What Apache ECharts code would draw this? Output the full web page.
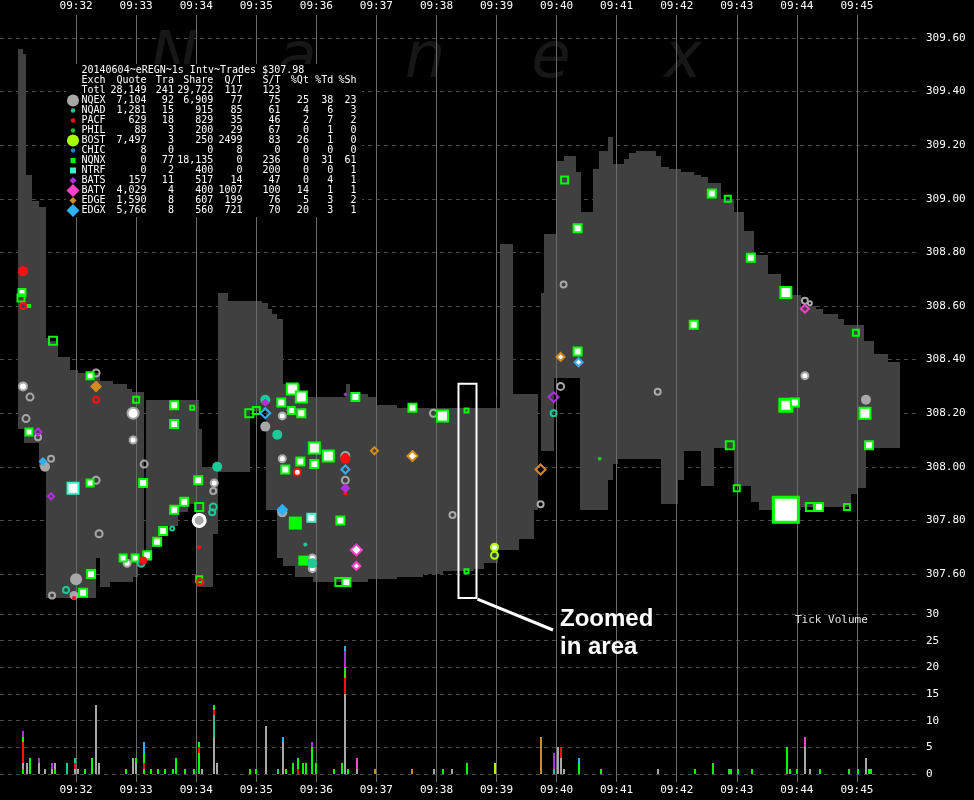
<!DOCTYPE html>
<html><head><meta charset="utf-8">
<script src="https://cdn.jsdelivr.net/npm/echarts@6/dist/echarts.min.js"></script>
<style>html,body{margin:0;padding:0;background:#000;}#c{width:974px;height:800px;}</style>
</head><body><div id="c"></div>
<script>
// ---------- exchanges / table ----------
const exchNames  = ['NQEX','NQAD','PACF','PHIL','BOST','CHIC','NQNX','NTRF','BATS','BATY','EDGE','EDGX'];
const exchColors = ['#a8a8a8','#20c898','#ff1010','#22c022','#aaff00','#1a88cc','#00ff00','#40f0c8','#b030e0','#ff40c8','#d08c20','#30b0f0'];
const exchSymbols= ['circle','circle','circle','circle','circle','circle','rect','rect','diamond','diamond','diamond','diamond'];
const titleText = '20140604~eREGN~1s Intv~Trades $307.98';
const headers  = ['Quote','Tra','Share','Q/T','S/T','%Qt','%Td','%Sh'];
const totals   = ['28,149','241','29,722','117','123','','',''];
const quoteCol = ['7,104','1,281','629','88','7,497','8','0','0','157','4,029','1,590','5,766'];
const traCol   = ['92','15','18','3','3','0','77','2','11','4','8','8'];
const shareCol = ['6,909','915','829','200','250','0','18,135','400','517','400','607','560'];
const qtCol    = ['77','85','35','29','2499','8','0','0','14','1007','199','721'];
const stCol    = ['75','61','46','67','83','0','236','200','47','100','76','70'];
const pctQt    = ['25','4','2','0','26','0','0','0','0','14','5','20'];
const pctTd    = ['38','6','7','1','1','0','31','0','4','1','3','3'];
const pctSh    = ['23','3','2','0','0','0','61','1','1','1','2','1'];

// ---------- NBBO band (time = seconds after 09:30:00) ----------
const bandTime = [62,67,68,70,76,83,90,94,102,114,122,140,144,154,157,171,176,177,182,188,190,196,204,212,222,232,241,243,246,257,262,272,294,306,310,312,316,321,327,339,344,357,390,394,412,421,441,467,487,517,527,541,543,556,562,577,581,584,587,597,599,607,619,623,624,636,642,651,656,661,667,672,679,699,704,712,721,724,727,737,744,751,757,764,777,787,794,797,802,811,824,844,859,866,881,887,894,901,907,909,917,931];
const bandAsk  = [309.56,309.54,309.54,309.09,308.99,308.97,308.48,308.47,308.41,308.36,308.35,308.35,308.32,308.32,308.31,308.29,308.28,308.28,308.28,308.28,308.25,308.25,308.25,308.25,308.25,308.25,308.25,308.14,308.00,308.00,308.65,308.62,308.62,308.61,308.61,308.59,308.57,308.55,308.31,308.31,308.26,308.26,308.31,308.27,308.26,308.23,308.22,308.22,308.22,308.22,308.22,308.22,308.83,308.27,308.27,308.27,308.27,308.65,308.87,308.87,309.14,309.16,309.10,309.10,308.95,309.11,309.18,309.23,309.13,309.13,309.15,309.17,309.18,309.16,309.12,309.11,309.11,309.10,309.10,309.09,309.08,309.06,309.06,309.00,308.95,308.88,308.88,308.79,308.79,308.72,308.64,308.60,308.59,308.57,308.55,308.53,308.53,308.53,308.47,308.47,308.42,308.39];
const bandBid  = [308.14,308.14,308.09,308.09,308.09,308.00,307.51,307.51,307.51,307.51,307.51,307.66,307.55,307.57,307.57,307.57,307.57,307.59,307.63,308.28,307.65,307.70,307.74,307.78,307.83,307.86,307.55,307.55,307.55,307.75,307.98,307.98,308.21,308.21,307.84,307.84,307.84,307.66,307.63,307.59,307.59,307.57,307.57,307.57,307.58,307.58,307.59,307.60,307.61,307.62,307.64,307.69,307.69,307.69,307.73,307.84,308.27,308.06,308.06,308.33,308.33,308.33,308.33,307.84,307.84,307.84,307.84,307.95,308.01,308.03,308.03,308.03,308.03,308.03,307.86,307.86,307.95,307.95,308.06,308.06,307.93,307.93,308.07,308.07,307.93,307.93,307.87,307.87,307.84,307.84,307.84,307.85,307.85,307.85,307.85,307.85,307.90,307.92,307.92,308.07,308.07,308.07];
const bandEnd = 943;

// ---------- trades / quotes: [time, price, size level, kind] ----------
// kind: T = trade (white centre), Q = hollow, F = filled, R = filled with white ring
const nqexMarks = [[67,308.30,4,'T'],[74,308.26,3,'Q'],[70,308.18,3,'Q'],[82,308.11,2,'Q'],[89,308.00,4,'F'],[95,308.03,2,'Q'],[140,308.35,3,'Q'],[140,307.95,3,'Q'],[143,307.75,3,'Q'],[177,308.20,6,'T'],[177,308.10,3,'T'],[188,308.01,3,'Q'],[171,307.64,3,'T'],[120,307.58,5,'F'],[96,307.52,2,'Q'],[118,307.52,3,'F'],[258,307.94,3,'T'],[257,307.91,2,'Q'],[243,307.80,7,'R'],[326,308.19,3,'T'],[309,308.15,4,'F'],[326,308.03,3,'T'],[326,307.83,4,'F'],[356,307.66,3,'T'],[356,307.62,3,'T'],[389,308.04,4,'Q'],[389,307.95,3,'Q'],[477,308.20,3,'Q'],[496,307.82,2,'Q'],[584,307.86,2,'Q'],[604,308.30,3,'Q'],[607,308.68,2,'Q'],[701,308.28,2,'Q'],[848,308.62,2,'Q'],[853,308.61,1,'Q'],[848,308.34,3,'T'],[909,308.25,4,'F']];
const nqadMarks = [[185,307.64,3,'Q'],[110,307.54,2,'Q'],[261,308.00,4,'F'],[257,307.85,3,'Q'],[256,307.83,2,'Q'],[216,307.77,1,'Q'],[309,308.25,4,'F'],[321,308.12,4,'F'],[349,307.71,0,'F'],[356,307.64,4,'F'],[597,308.20,2,'Q']];
const pacfMarks = [[67,308.73,4,'F'],[67,308.60,2,'Q'],[140,308.25,2,'Q'],[187,307.65,2,'F'],[118,307.51,0,'F'],[243,307.70,0,'F'],[244,307.57,2,'Q'],[341,307.98,3,'T'],[389,308.03,4,'F'],[389,307.90,0,'F']];
const philMarks = [[643,308.03,0,'F']];
const bostMarks = [[538,307.70,3,'T'],[538,307.67,3,'Q']];
const chicMarks = [];
const nqnxMarks = [[66,308.65,3,'T'],[65,308.63,3,'Q'],[73,308.60,0,'F'],[97,308.47,4,'Q'],[134,308.34,3,'T'],[73,308.13,3,'T'],[180,308.25,2,'Q'],[134,307.94,3,'T'],[187,307.94,4,'T'],[167,307.66,3,'T'],[179,307.66,3,'T'],[191,307.67,4,'T'],[201,307.72,4,'T'],[207,307.76,4,'T'],[135,307.60,4,'T'],[127,307.53,4,'T'],[218,308.23,4,'T'],[236,308.22,1,'Q'],[218,308.16,4,'T'],[242,307.95,4,'T'],[228,307.87,4,'T'],[218,307.84,4,'T'],[243,307.85,4,'Q'],[243,307.58,2,'Q'],[293,308.20,4,'Q'],[300,308.21,3,'Q'],[336,308.29,6,'T'],[345,308.26,6,'T'],[325,308.24,4,'T'],[335,308.21,3,'T'],[345,308.20,4,'T'],[358,308.07,6,'T'],[372,308.04,6,'T'],[344,308.02,4,'T'],[358,308.01,4,'T'],[329,307.99,4,'T'],[339,307.79,6,'F'],[347,307.65,4,'F'],[399,308.26,4,'T'],[456,308.22,4,'T'],[486,308.19,6,'T'],[510,308.21,1,'Q'],[384,307.80,4,'T'],[383,307.57,4,'Q'],[390,307.57,4,'T'],[510,307.61,1,'Q'],[621,308.43,4,'T'],[608,309.07,3,'Q'],[621,308.89,4,'T'],[755,309.02,4,'T'],[771,309.00,2,'Q'],[737,308.53,4,'T'],[794,308.78,4,'T'],[829,308.65,6,'T'],[899,308.50,2,'Q'],[829,308.23,7,'T'],[838,308.24,4,'T'],[908,308.20,6,'T'],[773,308.08,4,'Q'],[912,308.08,4,'T'],[780,307.92,2,'Q'],[829,307.84,8,'T'],[853,307.85,4,'Q'],[862,307.85,4,'T'],[890,307.85,2,'Q']];
const ntrfMarks = [[117,307.92,6,'T'],[355,307.81,4,'T']];
const batsMarks = [[82,308.13,3,'Q'],[95,307.89,2,'Q'],[389,308.27,0,'F'],[389,307.92,4,'F'],[597,308.26,5,'Q'],[309,308.24,2,'F']];
const batyMarks = [[400,307.69,6,'T'],[400,307.63,4,'T'],[848,308.59,4,'Q']];
const edgeMarks = [[140,308.30,5,'F'],[418,308.06,3,'Q'],[456,308.04,5,'T'],[584,307.99,5,'Q'],[604,308.41,4,'T']];
const edgxMarks = [[87,308.02,3,'F'],[309,308.20,5,'Q'],[326,307.84,5,'F'],[389,307.99,4,'Q'],[622,308.39,4,'T']];

// ---------- tick volume: [time, exchange, count] listed bottom to top ----------
const volBars = [[67,'NQNX',1],[67,'NQEX',1],[67,'PACF',4],[67,'NQNX',1],[67,'BATS',1],[71,'NQEX',2],[74,'NQNX',3],[83,'NQEX',2],[83,'BATS',1],[89,'NQEX',1],[96,'NQEX',1],[96,'BATS',1],[99,'NQNX',1],[99,'NQEX',1],[111,'NQAD',2],[119,'NQEX',1],[119,'PACF',1],[119,'NQAD',1],[122,'NQEX',1],[129,'NQNX',1],[136,'NQNX',3],[140,'NQEX',13],[143,'NQEX',2],[170,'NQNX',1],[177,'NQEX',3],[180,'NQEX',2],[180,'NQNX',1],[188,'NQNX',1],[188,'PACF',1],[188,'NQNX',2],[188,'EDGX',2],[195,'NQNX',1],[202,'NQNX',1],[209,'NQNX',1],[217,'NQNX',1],[220,'NQNX',3],[229,'NQNX',1],[238,'NQNX',1],[243,'NQNX',4],[243,'PACF',1],[243,'NQNX',1],[246,'NQEX',1],[258,'NQEX',7],[258,'NQAD',4],[258,'PACF',1],[258,'NQNX',1],[261,'NQEX',2],[294,'NQNX',1],[300,'NQNX',1],[310,'NQEX',9],[322,'NQAD',1],[327,'NQEX',6],[327,'EDGX',1],[330,'NQNX',1],[337,'NQNX',2],[342,'PACF',1],[342,'NQNX',2],[347,'NQNX',2],[350,'NQNX',2],[356,'NQNX',5],[356,'BATS',1],[360,'NQNX',2],[378,'NQNX',1],[386,'NQNX',2],[389,'NQEX',15],[389,'PACF',3],[389,'NQNX',2],[389,'BATS',3],[389,'EDGX',1],[392,'NQNX',1],[401,'NQEX',1],[401,'BATY',2],[419,'EDGE',1],[456,'EDGE',1],[478,'NQEX',1],[487,'NQNX',1],[496,'NQEX',1],[511,'NQNX',2],[538,'BOST',2],[584,'EDGE',7],[597,'NQAD',1],[597,'BATS',3],[601,'NQEX',5],[604,'NQEX',3],[604,'PACF',2],[607,'NQEX',1],[622,'NQNX',2],[622,'EDGX',1],[644,'NQNX',1],[701,'NQEX',1],[738,'NQNX',1],[756,'NQNX',2],[772,'NQNX',1],[774,'NQNX',1],[781,'NQNX',1],[795,'NQNX',1],[830,'NQNX',5],[833,'NQNX',1],[840,'NQNX',1],[848,'NQEX',5],[848,'BATY',2],[853,'NQEX',1],[863,'NQNX',1],[892,'NQNX',1],[901,'NQNX',1],[909,'NQEX',3],[912,'NQNX',1],[914,'NQNX',1]];

// ---------- axis ticks ----------
const priceMin = 307.6, priceMax = 309.6, priceStep = 0.2;
const volMax = 30, volStep = 5;
const timeMin = 60, timeMax = 960, timeStep = 60;
const zoomBox = {t0: 502, t1: 520, pHigh: 308.31, pLow: 307.51};

// ============ build ============
const MONO = '"DejaVu Sans Mono", monospace';
const markSizes = [4,6,8,9,10,12,13,15,28];
const markSets = [nqexMarks,nqadMarks,pacfMarks,philMarks,bostMarks,chicMarks,nqnxMarks,ntrfMarks,batsMarks,batyMarks,edgeMarks,edgxMarks];

function markItem(m, color) {
  const t = m[0], p = m[1], lvl = m[2], kind = m[3];
  const S = markSizes[lvl];
  const bw = lvl >= 7 ? 3 : 2;
  let st, size = S - bw;
  if (kind === 'T') st = {color:'#ffffff', borderColor:color, borderWidth:bw, opacity:1};
  else if (kind === 'Q') st = {color:'rgba(0,0,0,0)', borderColor:color, borderWidth:bw, opacity:1};
  else if (kind === 'R') st = {color:color, borderColor:'#ffffff', borderWidth:bw, opacity:1};
  else { st = {color:color, borderWidth:0, opacity:1}; size = S; }
  return {value:[t,p], symbolSize:size, itemStyle:st};
}

const bandSegs = bandTime.map((t,i) => [t, i+1 < bandTime.length ? bandTime[i+1] : bandEnd, bandBid[i], bandAsk[i]]);
const volSegs = [];
const volBase = {};
volBars.forEach(([t, ex, n]) => {
  const b = volBase[t] || 0;
  volSegs.push([t, b, b+n, exchNames.indexOf(ex)]);
  volBase[t] = b + n;
});

const timeFmt = v => {
  if (v <= timeMin || v >= timeMax) return '';
  const m = 30 + Math.round(v/60);
  return '09:' + String(m).padStart(2,'0');
};
const nTicks = Math.round((timeMax-timeMin)/timeStep) + 1;
const vColors = [];
for (let i = 0; i < nTicks; i++) vColors.push(i === 0 || i === nTicks-1 ? 'rgba(0,0,0,0)' : '#6a6a6a');

const series = [];
series.push({
  type:'custom', xAxisIndex:2, yAxisIndex:1, z:2, silent:true, animation:false,
  data: bandSegs, encode:{x:[0,1], y:[2,3]},
  renderItem: (params, api) => {
    const bid = api.value(2), ask = api.value(3);
    if (ask <= bid) return null;
    const a = api.coord([api.value(0), ask]);
    const b = api.coord([api.value(1), bid]);
    const x0 = Math.round(a[0]), x1 = Math.round(b[0]);
    return {type:'rect', shape:{x:x0, y:Math.round(a[1]), width:x1-x0, height:Math.round(b[1])-Math.round(a[1])}, style:{fill:'#404040'}};
  }
});
const order = [0,6,7,1,2,3,4,5,8,9,10,11];
order.forEach(i => {
  series.push({
    type:'scatter', name:exchNames[i], xAxisIndex:2, yAxisIndex:1, z:10, silent:true, animation:false,
    symbol:exchSymbols[i], clip:false, itemStyle:{opacity:1},
    data: markSets[i].map(m => markItem(m, exchColors[i]))
  });
});
series.push({
  type:'custom', xAxisIndex:3, yAxisIndex:2, z:10, silent:true, animation:false,
  data: volSegs, encode:{x:0, y:[1,2]},
  renderItem: (params, api) => {
    const lo = api.coord([api.value(0), api.value(1)]);
    const hi = api.coord([api.value(0), api.value(2)]);
    const x = Math.round(lo[0]) - 1;
    return {type:'rect', shape:{x:x, y:Math.round(hi[1]), width:2, height:Math.round(lo[1])-Math.round(hi[1])}, style:{fill:exchColors[api.value(3)]}};
  }
});

const labelStyle = {color:'#ffffff', fontFamily:MONO, fontSize:11};
const option = {
  backgroundColor:'#000000',
  animation:false,
  grid:[
    {left:16, right:57, top:15, bottom:18},
    {left:0, right:54, top:38, height:536},
    {left:0, right:54, top:614, height:160}
  ],
  xAxis:[
    {gridIndex:0, type:'value', min:timeMin, max:timeMax, interval:timeStep, position:'bottom', z:5,
     axisLine:{show:false}, axisTick:{show:false},
     axisLabel:Object.assign({formatter:timeFmt, margin:3, showMinLabel:true, showMaxLabel:true}, labelStyle),
     splitLine:{show:true, lineStyle:{color:vColors, width:1}}},
    {gridIndex:0, type:'value', min:timeMin, max:timeMax, interval:timeStep, position:'top',
     axisLine:{show:false}, axisTick:{show:false},
     axisLabel:Object.assign({formatter:timeFmt, margin:3}, labelStyle), splitLine:{show:false}},
    {gridIndex:1, type:'value', min:44.02, max:963, show:false},
    {gridIndex:2, type:'value', min:44.02, max:963, show:false}
  ],
  yAxis:[
    {gridIndex:0, type:'value', min:0, max:1, show:false},
    {gridIndex:1, type:'value', min:priceMin, max:priceMax, interval:priceStep, position:'right',
     axisLine:{show:false}, axisTick:{show:false},
     axisLabel:Object.assign({formatter:v => v.toFixed(2), margin:6}, labelStyle),
     splitLine:{show:true, lineStyle:{color:'#4a4a4a', type:[4,4], width:1}}},
    {gridIndex:2, type:'value', min:0, max:volMax, interval:volStep, position:'right',
     axisLine:{show:false}, axisTick:{show:false},
     axisLabel:Object.assign({margin:6}, labelStyle),
     splitLine:{show:true, lineStyle:{color:'#4a4a4a', type:[4,4], width:1}}}
  ],
  series: series
};

const chart = echarts.init(document.getElementById('c'), null, {renderer:'canvas'});
chart.setOption(option);

// ---------- graphics: watermark, legend table, annotation ----------
const els = [];
const wm = ['N','a','n','e','x'];
const wmX = [174,297,425,551,683];
wm.forEach((ch,i) => els.push({type:'text', z:1, silent:true, style:{x:wmX[i], y:60, text:ch, fill:'#171717', font:'italic 64px "DejaVu Sans", sans-serif', textAlign:'center', textVerticalAlign:'middle'}}));

els.push({type:'rect', z:20, silent:true, shape:{x:66, y:64, width:296, height:153}, style:{fill:'#000000'}});
const tf = '10px ' + MONO;
const rowY = r => 70.5 + r*10;
const colX = [146.6,173.9,213.3,242.6,280.6,308.9,333.3,356.6];
const txt = (x,y,s,align) => els.push({type:'text', z:21, silent:true, style:{x:x, y:y, text:s, fill:'#ffffff', font:tf, textAlign:align, textVerticalAlign:'middle'}});
txt(81.5, rowY(0), titleText, 'left');
txt(81.5, rowY(1), 'Exch', 'left');
headers.forEach((h,j) => txt(colX[j], rowY(1), h, 'right'));
txt(81.5, rowY(2), 'Totl', 'left');
totals.forEach((h,j) => { if (h) txt(colX[j], rowY(2), h, 'right'); });
const cols = [quoteCol,traCol,shareCol,qtCol,stCol,pctQt,pctTd,pctSh];
exchNames.forEach((nm,i) => {
  const y = rowY(3+i);
  txt(81.5, y, nm, 'left');
  cols.forEach((c,j) => txt(colX[j], y, c[i], 'right'));
  const big = (nm === 'NQEX' || nm === 'BOST' || nm === 'BATY' || nm === 'EDGX');
  const cx = 73, col = exchColors[i];
  if (exchSymbols[i] === 'circle') {
    els.push({type:'circle', z:21, silent:true, shape:{cx:cx, cy:y, r: big ? 6 : 2.2}, style:{fill:col}});
  } else if (exchSymbols[i] === 'rect') {
    const h = nm === 'NTRF' ? 3 : 2.5;
    els.push({type:'rect', z:21, silent:true, shape:{x:cx-h, y:y-h, width:2*h, height:2*h}, style:{fill:col}});
  } else {
    const h = big ? 6.5 : 3.5;
    els.push({type:'polygon', z:21, silent:true, shape:{points:[[cx,y-h],[cx+h,y],[cx,y+h],[cx-h,y]]}, style:{fill:col}});
  }
});

// Tick volume label
els.push({type:'text', z:21, silent:true, style:{x:795, y:620, text:'Tick Volume', fill:'#e0e0e0', font:'11px ' + MONO, textAlign:'left', textVerticalAlign:'middle'}});

// zoom annotation
const pA = chart.convertToPixel({gridIndex:1}, [zoomBox.t0, zoomBox.pHigh]);
const pB = chart.convertToPixel({gridIndex:1}, [zoomBox.t1, zoomBox.pLow]);
els.push({type:'rect', z:22, silent:true, shape:{x:pA[0], y:pA[1], width:pB[0]-pA[0], height:pB[1]-pA[1]}, style:{fill:'none', stroke:'#ffffff', lineWidth:2}});
els.push({type:'line', z:22, silent:true, shape:{x1:pB[0]+1, y1:pB[1]+1, x2:553, y2:630}, style:{stroke:'#ffffff', lineWidth:3}});
els.push({type:'text', z:22, silent:true, style:{x:560, y:619, text:'Zoomed', fill:'#ffffff', font:'bold 24px "Liberation Sans", Arial, sans-serif', textAlign:'left', textVerticalAlign:'middle'}});
els.push({type:'text', z:22, silent:true, style:{x:560, y:647, text:'in area', fill:'#ffffff', font:'bold 24px "Liberation Sans", Arial, sans-serif', textAlign:'left', textVerticalAlign:'middle'}});

chart.setOption({graphic:{elements:els}});
</script></body></html>
